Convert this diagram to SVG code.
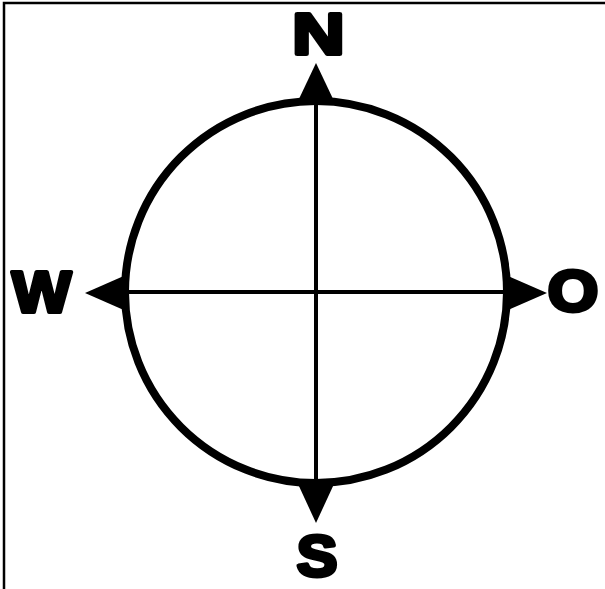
<svg xmlns="http://www.w3.org/2000/svg" width="605" height="589" viewBox="0 0 605 589">
<style>
.lbl{font-family:"Liberation Sans",Arial,sans-serif;font-weight:bold;font-size:58px;fill:#000;stroke:#000;stroke-width:4;stroke-linejoin:round;text-anchor:middle}
.ring{fill:none;stroke:#000;stroke-width:8}
.axis{stroke:#000;stroke-width:4}
.head{fill:#000}
</style>
<rect width="605" height="589" fill="#fff"/>
<path d="M4 589V3H605" fill="none" stroke="#000" stroke-width="2.5"/>
<g id="connectors">
<line class="axis" x1="316" y1="100" x2="316" y2="486"/>
<line class="axis" x1="124" y1="292" x2="508" y2="292"/>
</g>
<g id="ring"><circle class="ring" cx="316" cy="292" r="191"/></g>
<g id="north"><polygon class="head" points="316,63 298,101 334,101"/><text class="lbl" transform="translate(318.5,54) scale(1.25,1)">N</text></g>
<g id="west"><polygon class="head" points="85,293 126,275 126,311"/><text class="lbl" transform="translate(41.5,312) scale(1.08,1)">W</text></g>
<g id="east"><polygon class="head" points="547,293 506,275 506,311"/><text class="lbl" transform="translate(573,311) scale(1.12,1)">O</text></g>
<g id="south"><polygon class="head" points="316,523 298,484 334,484"/><text class="lbl" transform="translate(317,576) scale(1.05,1)">S</text></g>
</svg>
